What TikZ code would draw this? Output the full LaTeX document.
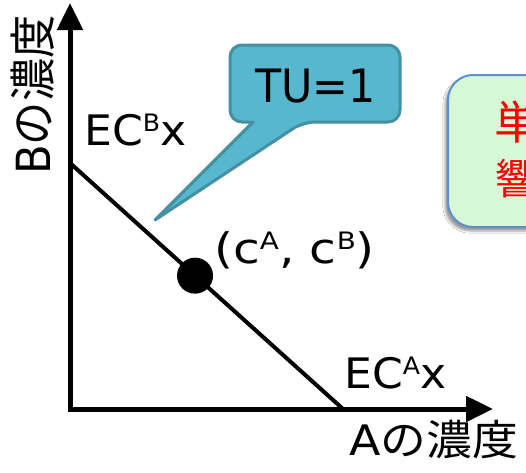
\documentclass[tikz,border=0pt]{standalone}
\usepackage{graphicx}
\usepackage{fontspec}
\setmainfont{DejaVu Sans}
\newfontfamily\jafont{Noto Sans CJK JP}
\usetikzlibrary{arrows.meta,positioning,shadows.blur}
\definecolor{tuteal}   {RGB}{87,183,207}
\definecolor{tuedge}   {RGB}{66,144,162}
\definecolor{notegreen}{RGB}{214,248,214}
\definecolor{noteblue} {RGB}{91,143,206}
\newcommand{\upidx}[1]{\raisebox{13.5pt}{\fontsize{24}{26}\selectfont #1}}
\newcommand{\hs}[2]{\scalebox{#1}[1]{#2}}

\begin{document}
\begin{tikzpicture}[x=1pt, y=-1pt,
  axis/.style={line width=5pt,
               {Triangle[length=27pt,width=25pt]}-{Triangle[length=27pt,width=25pt]}},
  lbl/.style={anchor=base west, inner sep=0pt, font=\fontsize{42}{48}\selectfont},
  dot/.style={circle, fill=black, inner sep=0pt, minimum size=36pt},
  callout/.style={fill=tuteal, draw=tuedge, line width=3pt, line join=round},
  notebox/.style={fill=notegreen, draw=noteblue, line width=2pt,
                  blur shadow={shadow xshift=-3pt, shadow yshift=-4pt}},
  redtxt/.style={text=red, inner sep=0pt, anchor=west}
]
  \path[use as bounding box, fill=white] (0,0) rectangle (526,472);

  % note box, cut off at the right edge
  \begin{scope}
    \clip (0,0) rectangle (526,472);
    \draw[notebox, rounded corners=25pt] (448,75) rectangle (640,227);
    \node[redtxt, font=\jafont\fontsize{46}{50}\selectfont] (tan) at (494,122) {単};
    \node[redtxt, font=\jafont\fontsize{42}{46}\selectfont] (kyo) at (495,179) {響};
  \end{scope}

  % axes
  \coordinate (ytip) at (70,3);
  \coordinate (orig) at (70,409);
  \coordinate (xtip) at (493,409);
  \draw[axis] (ytip) -- (orig) -- (xtip);

  % TU=1 line
  \coordinate (ecb) at (70,163);
  \coordinate (eca) at (343,409);
  \draw[line width=4pt] (ecb) -- (eca);
  \path (ecb) -- (eca) node[dot, pos=0.458] (pt) {};

  % callout
  \draw[callout] (155,220) -- (253,122) [rounded corners=12pt]
    -- (230,122) -- (230,45) -- (400,45) -- (400,122) -- (303,122)
    [sharp corners] -- cycle;
  \node[lbl, font=\fontsize{46}{50}\selectfont] (tu) at (255,102) {\hs{0.93}{TU=1}};

  % labels
  \node[lbl] (ecbx)  at (84,145)  {\hs{1.05}{EC\upidx{B}x}};
  \node[lbl] (ecax)  at (344,388) {\hs{1.05}{EC\upidx{A}x}};
  \node[lbl] (ptlbl) at (214,263) {\hs{1.16}{(c\upidx{A}, c\upidx{B})}};
  \node[lbl] (xlbl)  at (349,455) {\hs{1.09}{A{\jafont の濃度}}};
  \node[lbl, rotate=90] (ylbl) at (50,175) {\scalebox{1.03}[1.12]{B{\jafont の濃度}}};
\end{tikzpicture}
\end{document}
